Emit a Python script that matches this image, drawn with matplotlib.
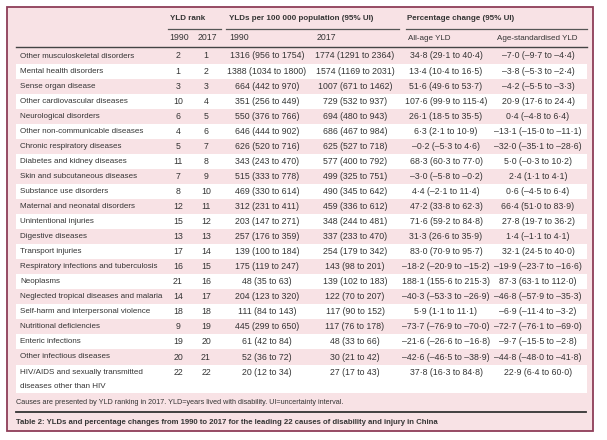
import matplotlib
matplotlib.use("Agg")
import matplotlib.pyplot as plt
from matplotlib.patches import Rectangle

plt.rcParams['font.family'] = ['Liberation Sans', 'DejaVu Sans']

causes = [
    "Other musculoskeletal disorders", "Mental health disorders", "Sense organ disease",
    "Other cardiovascular diseases", "Neurological disorders", "Other non-communicable diseases",
    "Chronic respiratory diseases", "Diabetes and kidney diseases", "Skin and subcutaneous diseases",
    "Substance use disorders", "Maternal and neonatal disorders", "Unintentional injuries",
    "Digestive diseases", "Transport injuries", "Respiratory infections and tuberculosis",
    "Neoplasms", "Neglected tropical diseases and malaria", "Self-harm and interpersonal violence",
    "Nutritional deficiencies", "Enteric infections", "Other infectious diseases",
    "HIV/AIDS and sexually transmitted\ndiseases other than HIV",
]
rank_1990 = [2, 1, 3, 10, 6, 4, 5, 11, 7, 8, 12, 15, 13, 17, 16, 21, 14, 18, 9, 19, 20, 22]
rank_2017 = [1, 2, 3, 4, 5, 6, 7, 8, 9, 10, 11, 12, 13, 14, 15, 16, 17, 18, 19, 20, 21, 22]
yld1990 = [1316, 1388, 664, 351, 550, 646, 626, 343, 515, 469, 312, 203, 257, 139, 175, 48, 204, 111, 445, 61, 52, 20]
yld1990_lo = [956, 1034, 442, 256, 376, 444, 520, 243, 333, 330, 231, 147, 176, 100, 119, 35, 123, 84, 299, 42, 36, 12]
yld1990_hi = [1754, 1800, 970, 449, 766, 902, 716, 470, 778, 614, 411, 271, 359, 184, 247, 63, 320, 143, 650, 84, 72, 34]
yld2017 = [1774, 1574, 1007, 729, 694, 686, 625, 577, 499, 490, 459, 348, 337, 254, 143, 139, 122, 117, 117, 48, 30, 27]
yld2017_lo = [1291, 1169, 671, 532, 480, 467, 527, 400, 325, 345, 336, 244, 233, 179, 98, 102, 70, 90, 76, 33, 21, 17]
yld2017_hi = [2364, 2031, 1462, 937, 943, 984, 718, 792, 751, 642, 612, 481, 470, 342, 201, 183, 207, 152, 178, 66, 42, 43]
allage = [34.8, 13.4, 51.6, 107.6, 26.1, 6.3, -0.2, 68.3, -3.0, 4.4, 47.2, 71.6, 31.3, 83.0, -18.2, 188.1, -40.3, 5.9, -73.7, -21.6, -42.6, 37.8]
allage_lo = [29.1, 10.4, 49.6, 99.9, 18.5, 2.1, -5.3, 60.3, -5.8, -2.1, 33.8, 59.2, 26.6, 70.9, -20.9, 155.6, -53.3, 1.1, -76.9, -26.6, -46.5, 16.3]
allage_hi = [40.4, 16.5, 53.7, 115.4, 35.5, 10.9, 4.6, 77.0, -0.2, 11.4, 62.3, 84.8, 35.9, 95.7, -15.2, 215.3, -26.9, 11.1, -70.0, -16.8, -38.9, 84.8]
agestd = [-7.0, -3.8, -4.2, 20.9, 0.4, -13.1, -32.0, 5.0, 2.4, 0.6, 66.4, 27.8, 1.4, 32.1, -19.9, 87.3, -46.8, -6.9, -72.7, -9.7, -44.8, 22.9]
agestd_lo = [-9.7, -5.3, -5.5, 17.6, -4.8, -15.0, -35.1, -0.3, 1.1, -4.5, 51.0, 19.7, -1.1, 24.5, -23.7, 63.1, -57.9, -11.4, -76.1, -15.5, -48.0, 6.4]
agestd_hi = [-4.4, -2.4, -3.3, 24.4, 6.4, -11.1, -28.6, 10.2, 4.1, 6.4, 83.9, 36.2, 4.1, 40.0, -16.6, 112.0, -35.3, -3.2, -69.0, -2.8, -41.8, 60.0]

group_headers = ["YLD rank", "YLDs per 100 000 population (95% UI)", "Percentage change (95% UI)"]
sub_headers = ["1990", "2017", "1990", "2017", "All-age YLD", "Age-standardised YLD"]
footnote = "Causes are presented by YLD ranking in 2017. YLD=years lived with disability. UI=uncertainty interval."
caption = "Table 2: YLDs and percentage changes from 1990 to 2017 for the leading 22 causes of disability and injury in China"

PINK = "#f8e2e5"
BORDER = "#8e3d58"
TXT = "#353535"

def fmt1(v):
    return f"{v:.1f}".replace(".", "\u00b7").replace("-", "\u2013")

W, H = 607, 440
fig = plt.figure(figsize=(W / 100, H / 100), dpi=100)
ax = fig.add_axes([0, 0, 1, 1])
ax.set_xlim(0, W)
ax.set_ylim(H, 0)
ax.axis("off")

ax.add_patch(Rectangle((7, 7), 586, 424, facecolor=PINK, edgecolor=BORDER, lw=1.3))

fs_cause = 5.8
fs_num = 6.3
fs_head = 5.8
# group headers
gx = [170, 229, 407]
for x, t in zip(gx, group_headers):
    ax.text(x, 19, t, fontsize=fs_head, fontweight="bold", color=TXT, ha="left", va="center")
for x0, x1 in [(168, 221), (226, 399), (406, 587)]:
    ax.plot([x0, x1], [29, 29], color="#555555", lw=0.9)
sx = [169, 198, 229, 317, 408, 497]
sfs = [fs_num, fs_num, fs_num, fs_num, fs_head, fs_head]
for x, t, f in zip(sx, sub_headers, sfs):
    ax.text(x, 38, t, fontsize=f, color=TXT, ha="left", va="center")
ax.plot([16, 587], [47.5, 47.5], color="#444444", lw=1.0)

step = 15.05
y0 = 56
n = len(causes)
for i in range(n):
    yc = y0 + step * i
    top = yc - step / 2
    h = step if i < n - 1 else 28.5
    if i % 2 == 1:
        ax.add_patch(Rectangle((16, top), 571, h, facecolor="white", edgecolor="none"))
    if "\n" in causes[i]:
        ax.text(20, yc + 7.5, causes[i], fontsize=fs_cause, color=TXT, ha="left", va="center",
                linespacing=2.25)
    else:
        ax.text(20, yc, causes[i], fontsize=fs_cause, color=TXT, ha="left", va="center")
    ax.text(178, yc, str(rank_1990[i]), fontsize=fs_num, color=TXT, ha="center", va="center")
    ax.text(206, yc, str(rank_2017[i]), fontsize=fs_num, color=TXT, ha="center", va="center")
    ax.text(267, yc, f"{yld1990[i]} ({yld1990_lo[i]} to {yld1990_hi[i]})", fontsize=fs_num, color=TXT, ha="center", va="center")
    ax.text(355, yc, f"{yld2017[i]} ({yld2017_lo[i]} to {yld2017_hi[i]})", fontsize=fs_num, color=TXT, ha="center", va="center")
    ax.text(446, yc, f"{fmt1(allage[i])} ({fmt1(allage_lo[i])} to {fmt1(allage_hi[i])})", fontsize=fs_num, color=TXT, ha="center", va="center")
    ax.text(538, yc, f"{fmt1(agestd[i])} ({fmt1(agestd_lo[i])} to {fmt1(agestd_hi[i])})", fontsize=fs_num, color=TXT, ha="center", va="center")

ax.text(16, 402, footnote, fontsize=5.25, color=TXT, ha="left", va="center")
ax.plot([16, 586], [412, 412], color="#333333", lw=1.3)
ax.text(16, 422, caption, fontsize=5.55, fontweight="bold", color=TXT, ha="left", va="center")

fig.savefig("out.png", dpi=100, facecolor="white")
